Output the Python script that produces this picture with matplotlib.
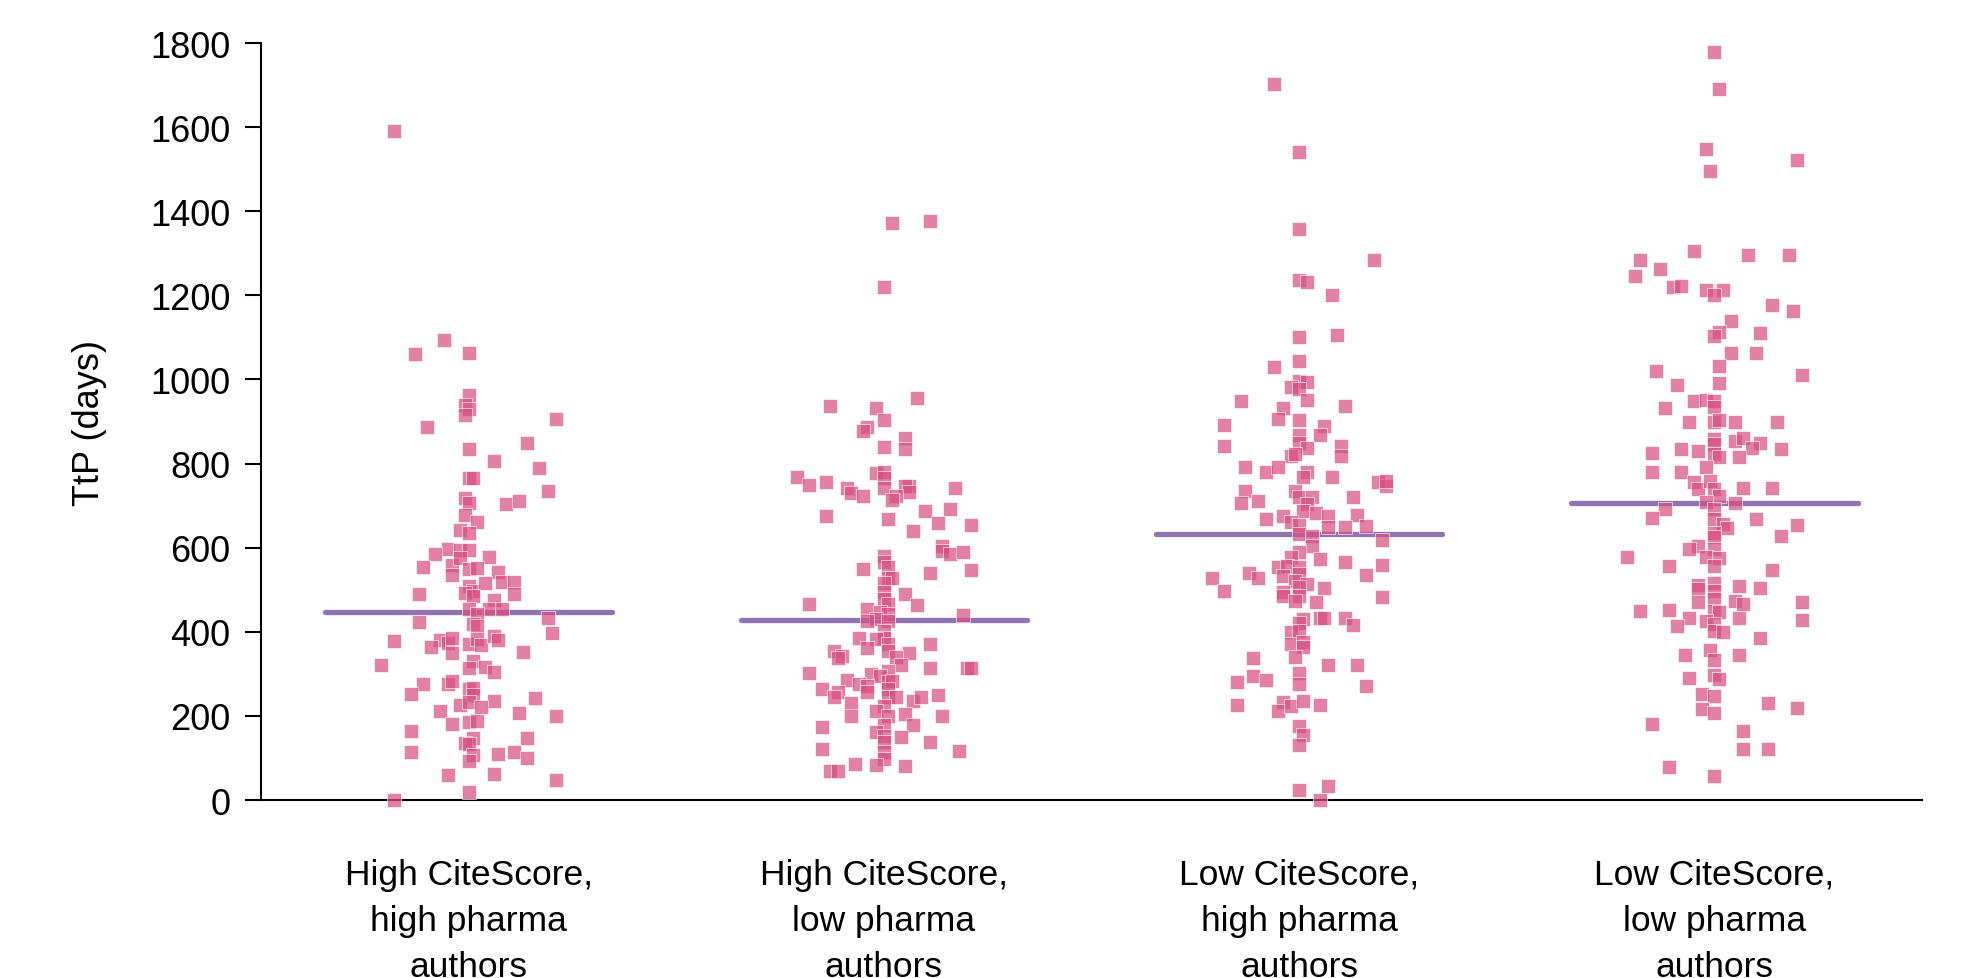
import matplotlib
matplotlib.use("Agg")
import matplotlib.pyplot as plt
import numpy as np

plt.rcParams['font.family'] = ['Liberation Sans', 'DejaVu Sans']

categories = ["High CiteScore,\nhigh pharma\nauthors",
              "High CiteScore,\nlow pharma\nauthors",
              "Low CiteScore,\nhigh pharma\nauthors",
              "Low CiteScore,\nlow pharma\nauthors"]

medians = [446, 428, 633, 706]

# Group 1: High CiteScore, high pharma authors
g1_ttp = [1590, 1093, 1060, 1062, 964, 939, 930, 915, 907, 888, 848, 834, 807, 789, 765, 765,
          734, 717, 707, 703, 710, 678, 662, 642, 636, 597, 586, 594, 595, 579, 559, 575, 553,
          550, 552, 535, 543, 489, 510, 498, 516, 519, 519, 490, 492, 486, 476, 454, 454, 454,
          442, 423, 418, 414, 432, 396, 377, 380, 374, 365, 386, 372, 383, 369, 389, 380, 349,
          353, 320, 330, 315, 317, 304, 275, 277, 284, 251, 264, 267, 250, 236, 242, 225, 232,
          222, 211, 208, 199, 180, 185, 187, 163, 147, 136, 133, 147, 113, 108, 93, 109, 113,
          99, 59, 63, 47, 18, 0]
g1_jit = [-0.18, -0.06, -0.13, 0.00, 0.00, -0.01, 0.00, -0.01, 0.21, -0.10, 0.14, 0.00, 0.06,
          0.17, 0.00, 0.01, 0.19, -0.01, 0.00, 0.09, 0.12, -0.01, 0.02, -0.02, 0.00, -0.05,
          -0.08, -0.02, 0.00, 0.05, -0.04, -0.02, -0.11, 0.00, 0.02, -0.04, 0.07, -0.12, 0.00,
          0.01, 0.04, 0.08, 0.11, 0.11, -0.01, 0.01, 0.06, 0.00, 0.05, 0.08, 0.02, -0.12, 0.01,
          0.02, 0.19, 0.20, -0.18, -0.07, -0.05, -0.09, -0.04, 0.00, 0.02, 0.03, 0.06, 0.07,
          -0.04, 0.13, -0.21, 0.01, 0.00, 0.04, 0.06, -0.11, -0.05, -0.04, -0.14, 0.00, 0.01,
          0.01, 0.06, 0.16, -0.02, 0.00, 0.03, -0.07, 0.12, 0.21, -0.04, 0.00, 0.02, -0.14,
          0.01, -0.01, 0.00, 0.14, -0.14, 0.01, 0.00, 0.07, 0.11, 0.14, -0.05, 0.06, 0.21,
          0.00, -0.18]

# Group 2: High CiteScore, low pharma authors
g2_ttp = [1373, 1376, 1219, 938, 931, 955, 903, 888, 877, 861, 834, 839, 768, 750, 757, 741,
          729, 724, 777, 779, 765, 743, 747, 747, 733, 724, 714, 743, 676, 668, 687, 691, 658,
          653, 639, 605, 593, 586, 589, 548, 541, 550, 580, 565, 553, 529, 527, 517, 494, 478,
          466, 489, 463, 465, 454, 446, 442, 430, 426, 426, 440, 403, 385, 386, 383, 361, 371,
          355, 349, 370, 355, 342, 337, 339, 321, 315, 313, 313, 303, 300, 307, 294, 286, 276,
          272, 280, 284, 264, 264, 258, 246, 256, 244, 244, 236, 246, 249, 231, 224, 211, 199,
          205, 200, 199, 173, 178, 178, 161, 153, 149, 137, 137, 121, 116, 113, 97, 85, 84, 80,
          70, 68]
g2_jit = [0.02, 0.11, 0.00, -0.13, -0.02, 0.08, 0.00, -0.04, -0.05, 0.05, 0.05, 0.00, -0.21,
          -0.18, -0.14, -0.09, -0.08, -0.05, -0.02, 0.00, 0.00, 0.00, 0.06, 0.05, 0.06, 0.03,
          0.02, 0.17, -0.14, 0.01, 0.10, 0.16, 0.13, 0.21, 0.07, 0.14, 0.14, 0.16, 0.19, 0.21,
          0.11, -0.05, 0.00, 0.00, 0.01, 0.01, 0.02, 0.00, 0.00, 0.00, 0.01, 0.05, 0.08, -0.18,
          -0.04, -0.01, 0.01, -0.02, 0.01, -0.04, 0.19, 0.00, -0.06, 0.00, -0.02, -0.04, 0.01,
          0.01, 0.06, 0.11, -0.12, -0.10, -0.11, 0.03, 0.04, 0.11, 0.20, 0.21, -0.18, -0.03,
          0.01, -0.01, -0.09, -0.06, -0.04, 0.01, 0.02, 0.01, -0.15, -0.11, -0.12, -0.04, 0.01,
          0.03, 0.07, 0.09, 0.13, -0.08, 0.00, -0.02, 0.01, 0.05, -0.08, 0.14, -0.15, 0.00,
          0.07, -0.02, 0.00, 0.04, 0.00, 0.11, -0.15, 0.18, 0.00, 0.00, -0.07, -0.02, 0.05,
          -0.13, -0.11]

# Group 3: Low CiteScore, high pharma authors
g3_ttp = [1702, 1540, 1357, 1283, 1236, 1232, 1200, 1102, 1105, 1043, 1029, 997, 993, 983, 977,
          948, 952, 938, 931, 907, 903, 891, 889, 869, 867, 843, 850, 837, 841, 819, 819, 823,
          791, 779, 791, 779, 769, 767, 757, 746, 759, 734, 706, 712, 735, 720, 720, 704, 720,
          688, 682, 675, 668, 675, 678, 660, 654, 650, 650, 652, 632, 628, 619, 603, 590, 573,
          565, 558, 577, 553, 557, 553, 539, 528, 527, 496, 533, 537, 521, 514, 506, 534, 505,
          494, 486, 486, 474, 470, 482, 430, 422, 434, 434, 433, 416, 400, 402, 371, 376, 365,
          341, 337, 322, 320, 294, 280, 286, 303, 277, 270, 225, 234, 211, 224, 235, 227, 177,
          155, 131, 25, 33, 0]
g3_jit = [-0.06, 0.00, 0.00, 0.18, 0.00, 0.02, 0.08, 0.00, 0.09, 0.00, -0.06, 0.00, 0.02, -0.02,
          0.00, -0.14, 0.02, 0.11, -0.04, -0.05, 0.00, -0.18, 0.06, 0.00, 0.05, -0.18, 0.00,
          0.02, 0.10, 0.10, -0.02, -0.01, -0.13, -0.08, -0.05, 0.02, 0.01, 0.08, 0.19, 0.21,
          0.21, -0.13, -0.14, -0.10, -0.01, 0.00, 0.03, 0.02, 0.13, 0.01, 0.04, -0.04, -0.08,
          0.07, 0.14, -0.02, 0.00, 0.07, 0.11, 0.16, 0.00, 0.03, 0.20, 0.03, 0.00, 0.05, 0.11,
          0.20, -0.02, -0.05, -0.03, 0.00, -0.12, -0.10, -0.21, -0.18, -0.04, 0.00, -0.01, 0.02,
          0.00, 0.16, 0.06, -0.04, -0.04, 0.00, -0.01, 0.04, 0.20, 0.01, 0.00, 0.05, 0.06, 0.11,
          0.13, -0.02, 0.00, -0.02, 0.01, 0.01, -0.01, -0.11, 0.07, 0.14, -0.11, -0.15, -0.08,
          0.00, 0.00, 0.16, -0.15, -0.04, -0.05, -0.02, 0.01, 0.05, 0.00, 0.01, 0.00, 0.00,
          0.07, 0.05]

# Group 4: Low CiteScore, low pharma authors
g4_ttp = [1778, 1690, 1549, 1521, 1495, 1305, 1285, 1297, 1297, 1262, 1245, 1219, 1223, 1212,
          1212, 1201, 1178, 1162, 1140, 1114, 1104, 1110, 1064, 1064, 1021, 1031, 1010, 986, 991,
          949, 951, 949, 934, 931, 900, 900, 904, 900, 900, 858, 854, 861, 848, 836, 846, 826,
          834, 831, 834, 823, 815, 815, 779, 779, 757, 739, 791, 759, 739, 723, 743, 743, 708,
          692, 706, 693, 670, 669, 653, 629, 668, 656, 648, 636, 625, 605, 597, 597, 577, 575,
          557, 577, 556, 548, 512, 517, 498, 510, 505, 502, 478, 470, 474, 466, 470, 427, 449,
          451, 434, 413, 450, 446, 426, 418, 403, 400, 432, 386, 346, 357, 334, 346, 289, 297,
          287, 252, 248, 216, 207, 230, 218, 180, 163, 121, 122, 78, 56]
g4_jit = [0.00, 0.01, -0.02, 0.20, -0.01, -0.05, -0.18, 0.08, 0.18, -0.13, -0.19, -0.10, -0.08,
          -0.02, 0.02, 0.00, 0.14, 0.19, 0.04, 0.01, 0.00, 0.11, 0.04, 0.10, -0.14, 0.01, 0.21,
          -0.09, 0.01, -0.05, -0.02, 0.00, 0.00, -0.12, -0.06, 0.00, 0.01, 0.05, 0.15, 0.00,
          0.05, 0.07, 0.11, 0.09, 0.00, -0.15, -0.08, -0.04, 0.16, 0.00, 0.01, 0.06, -0.15,
          -0.08, -0.05, -0.04, -0.02, -0.01, 0.00, 0.01, 0.07, 0.14, -0.02, 0.00, 0.05, -0.12,
          -0.15, 0.10, 0.20, 0.16, 0.00, 0.02, 0.03, 0.00, 0.00, -0.04, -0.06, 0.00, -0.02,
          0.01, 0.00, -0.21, -0.11, 0.14, -0.04, 0.00, 0.00, 0.06, 0.11, -0.04, 0.00, -0.04,
          0.05, 0.07, 0.21, 0.21, -0.18, -0.11, -0.06, -0.09, 0.00, 0.01, -0.02, 0.00, 0.00,
          0.02, 0.06, 0.11, -0.07, -0.01, 0.00, 0.06, -0.06, 0.00, 0.01, -0.03, 0.00, -0.03,
          0.00, 0.13, 0.20, -0.15, 0.07, 0.07, 0.13, -0.11, 0.00]

yticks = [0, 200, 400, 600, 800, 1000, 1200, 1400, 1600, 1800]

groups_ttp = [g1_ttp, g2_ttp, g3_ttp, g4_ttp]
groups_jit = [g1_jit, g2_jit, g3_jit, g4_jit]

point_color = (216/255, 80/255, 128/255)
line_color = '#9073B2'

fig = plt.figure(figsize=(19.63, 9.79), dpi=100)
ax = fig.add_axes([0.1330, 0.1818, 0.8461, 0.7732])

for k, (vals, jit) in enumerate(zip(groups_ttp, groups_jit)):
    ax.plot([k - 0.345, k + 0.345], [medians[k], medians[k]], color=line_color,
            lw=3.8, solid_capstyle='round', zorder=2)
    x = k + np.asarray(jit)
    ax.scatter(x, vals, marker='s', s=112, color=point_color, alpha=0.72,
               edgecolors=(1, 1, 1, 0.6), linewidths=0.6, zorder=3, clip_on=False)

ax.set_xlim(-0.5, 3.5)
ax.set_ylim(0, 1800)
ax.set_yticks(yticks)
ax.set_yticklabels([str(v) for v in yticks])
ax.set_xticks(range(len(categories)))
ax.set_xticklabels(categories, fontsize=25.5, linespacing=1.5)
ax.tick_params(axis='x', length=0, pad=41.5)
ax.tick_params(axis='y', labelsize=26, length=11.5, width=1.5, pad=10.5, direction='out')
ax.set_ylabel('TtP (days)', fontsize=26, labelpad=31)

for side in ['top', 'right']:
    ax.spines[side].set_visible(False)
for side in ['left', 'bottom']:
    ax.spines[side].set_linewidth(1.5)
    ax.spines[side].set_color('black')

fig.savefig('out.png', dpi=100)
